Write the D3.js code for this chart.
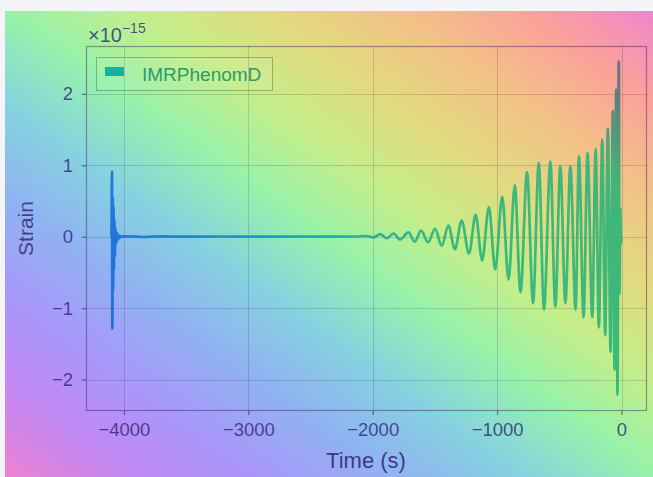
<!DOCTYPE html>
<html>
<head>
<meta charset="utf-8">
<script src="https://cdn.jsdelivr.net/npm/d3@7"></script>
<style>
  html, body { margin: 0; padding: 0; background: #f5f4f8; }
  #wrap { position: relative; width: 653px; height: 477px; overflow: hidden; }
  #bg {
    position: absolute; left: 5px; top: 11px; width: 648px; height: 466px;
    background: linear-gradient(to top right,
      #ec82d4 0%, #c288f2 10%, #a898fa 20%, #90b2f2 30%, #86d2e0 40%,
      #96f2ac 50%, #c4ee8a 60%, #e2da80 70%, #f2c286 80%, #fba29a 90%, #ee86cc 100%);
  }
  svg { position: absolute; left: 0; top: 0; }
  text { font-family: "Liberation Sans", Arial, Helvetica, sans-serif; }
</style>
</head>
<body>
<div id="wrap"><div id="bg"></div><svg id="chart" width="653" height="477"></svg></div>
<script>
// Waveform samples: time before merger (s) and strain in units of 1e-15
const timeSec = [
  -4100, -4096, -4093, -4090, -4087, -4084, -4081, -4077, -4073, -4068, -4062, -4055, -4047, -4038, -4028, -4015,
  -3950, -3850, -3700, -3500, -3200, -2900, -2600, -2300, -2150,
  -2047, -1993, -1940, -1887, -1833, -1780, -1713, -1663, -1611, -1555, -1499, -1445, -1392, -1339, -1285, -1226,
  -1173, -1120, -1066, -1015, -959, -908, -858, -812, -759, -711, -665, -623, -572, -532, -492, -451, -411, -369,
  -342, -305, -273, -235, -208, -182, -155, -131, -110, -88, -70, -56, -43, -32, -22,
  -16, -10, -5, 0
];
const strainE15 = [
  0, 0.91, -1.29, 0.55, -0.75, 0.42, -0.46, 0.25, -0.28, 0.12, -0.10, 0.05, -0.04, 0.02, -0.012, 0.006,
  0.006, -0.004, 0.004, 0, 0.003, 0, 0.003, 0, 0.003,
  0.010, -0.010, 0.035, -0.020, 0.045, -0.040, 0.060, -0.070, 0.085, -0.080, 0.110, -0.126, 0.155, -0.175, 0.225, -0.235,
  0.305, -0.330, 0.415, -0.460, 0.560, -0.600, 0.720, -0.775, 0.905, -0.930, 1.030, -1.020, 1.050, -0.980, 0.990, -0.930, 0.990, -1.020,
  1.130, -1.130, 1.170, -1.130, 1.230, -1.270, 1.360, -1.380, 1.510, -1.610, 1.760, -1.860, 2.060, -2.210, 2.450,
  -0.80, 0.40, -0.10, 0
];
const xTickValues = [-4000, -3000, -2000, -1000, 0];
const yTickValues = [-2, -1, 0, 1, 2];
const seriesName = "IMRPhenomD";
const xTitle = "Time (s)";
const yTitle = "Strain";

const svg = d3.select("#chart");
const plot = { left: 86, right: 647, top: 46, bottom: 411 };

const x = d3.scaleLinear().domain([-4305, 205]).range([plot.left, plot.right]);
const y = d3.scaleLinear().domain([-2.44, 2.67]).range([plot.bottom, plot.top]);

const fmt = v => (v < 0 ? "\u2212" + Math.abs(v) : String(v));
const ink = "#2b2370";

// grid
const grid = svg.append("g").attr("stroke", "rgba(40,30,70,0.18)").attr("stroke-width", 1);
grid.selectAll("line.gx").data(xTickValues).join("line")
  .attr("x1", d => Math.round(x(d)) + 0.5).attr("x2", d => Math.round(x(d)) + 0.5)
  .attr("y1", plot.top).attr("y2", plot.bottom);
grid.selectAll("line.gy").data(yTickValues).join("line")
  .attr("y1", d => Math.round(y(d)) + 0.5).attr("y2", d => Math.round(y(d)) + 0.5)
  .attr("x1", plot.left).attr("x2", plot.right);

// stroke colour shifts across the plot
const defs = svg.append("defs");
const lg = defs.append("linearGradient").attr("id", "waveInk")
  .attr("gradientUnits", "userSpaceOnUse")
  .attr("x1", 100).attr("y1", 300).attr("x2", 640).attr("y2", 40);
[[0, "#1466dc"], [0.2, "#1a7fd2"], [0.42, "#1ea6a6"], [0.55, "#29b47e"], [0.86, "#2db478"],
 [0.92, "#4d8078"], [0.97, "#5d5e78"], [1, "#5d5e78"]]
  .forEach(([o, c]) => lg.append("stop").attr("offset", o).attr("stop-color", c));

const clip = defs.append("clipPath").attr("id", "plotClip");
clip.append("rect").attr("x", plot.left).attr("y", plot.top)
  .attr("width", plot.right - plot.left).attr("height", plot.bottom - plot.top);

const line = d3.line()
  .x((d, i) => x(timeSec[i]))
  .y(d => y(d))
  .curve(d3.curveMonotoneX);

svg.append("path")
  .attr("clip-path", "url(#plotClip)")
  .attr("d", line(strainE15))
  .attr("fill", "none")
  .attr("stroke", "url(#waveInk)")
  .attr("stroke-width", 2.7)
  .attr("stroke-linejoin", "round")
  .attr("opacity", 0.9);

// frame
svg.append("rect")
  .attr("x", plot.left + 0.5).attr("y", plot.top + 0.5)
  .attr("width", plot.right - plot.left - 1).attr("height", plot.bottom - plot.top - 1)
  .attr("fill", "none").attr("stroke", "rgba(60,30,90,0.45)").attr("stroke-width", 1.2);

// axes
const xAxis = d3.axisBottom(x).tickValues(xTickValues).tickFormat(fmt).tickSize(4).tickPadding(8);
const yAxis = d3.axisLeft(y).tickValues(yTickValues).tickFormat(fmt).tickSize(4).tickPadding(9);

const gx = svg.append("g").attr("transform", `translate(0,${plot.bottom})`).call(xAxis);
const gy = svg.append("g").attr("transform", `translate(${plot.left},0)`).call(yAxis);
[gx, gy].forEach(g => {
  g.select(".domain").remove();
  g.selectAll(".tick line").attr("stroke", "rgba(50,30,90,0.6)").attr("stroke-width", 1.2);
  g.selectAll(".tick text").attr("fill", ink).attr("fill-opacity", 0.78)
    .style("font-size", "18.5px").style("font-family", "'Liberation Sans', Arial, sans-serif");
});

// axis titles
svg.append("text").attr("x", 366).attr("y", 468)
  .attr("text-anchor", "middle").attr("fill", ink).attr("fill-opacity", 0.85)
  .style("font-size", "22px").text(xTitle);
svg.append("text")
  .attr("transform", `translate(33,${(plot.top + plot.bottom) / 2}) rotate(-90)`)
  .attr("text-anchor", "middle").attr("fill", ink).attr("fill-opacity", 0.8)
  .style("font-size", "21px").text(yTitle);

// scale factor note
const off = svg.append("text").attr("x", 88).attr("y", 42).attr("fill", ink).attr("fill-opacity", 0.78)
  .style("font-size", "20px");
off.append("tspan").text("\u00d710");
off.append("tspan").attr("dy", -9).style("font-size", "14px").text("\u221215");

// legend
const leg = svg.append("g");
leg.append("rect").attr("x", 96.5).attr("y", 57.5).attr("width", 176).attr("height", 33)
  .attr("fill", "rgba(255,255,255,0.06)").attr("stroke", "rgba(70,90,40,0.4)").attr("stroke-width", 1);
leg.append("rect").attr("x", 105).attr("y", 67).attr("width", 19).attr("height", 9).attr("fill", "#14b0a0");
leg.append("text").attr("x", 142).attr("y", 81).attr("fill", "#2a9c6a")
  .style("font-size", "19px").text(seriesName);
</script>
</body>
</html>
